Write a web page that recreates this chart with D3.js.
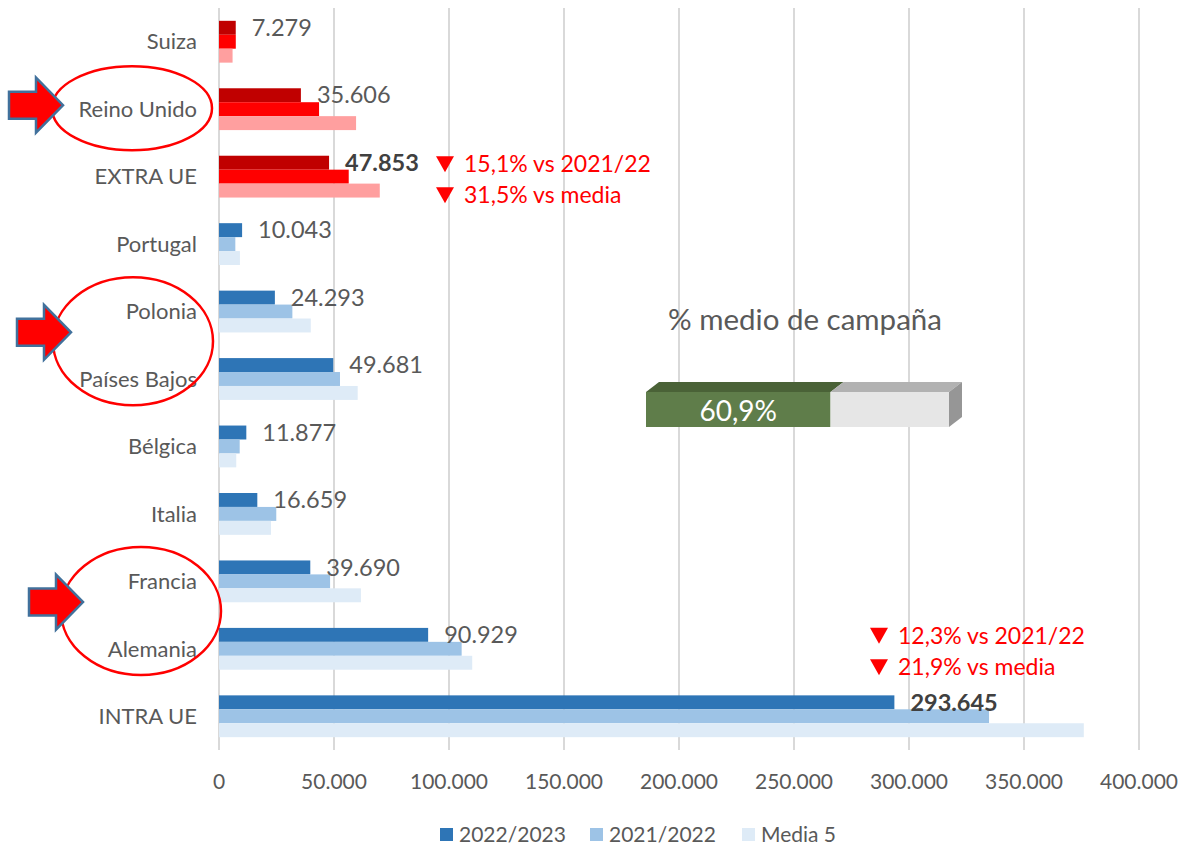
<!DOCTYPE html>
<html>
<head>
<meta charset="utf-8">
<script src="https://cdn.jsdelivr.net/npm/d3@7"></script>
<style>
  html, body { margin: 0; padding: 0; background: #fff; }
  svg { display: block; font-family: "Lato", "Open Sans", sans-serif; }
</style>
</head>
<body>
<div id="chart"></div>
<script>
// ---------- Data ----------
const categories = ["Suiza", "Reino Unido", "EXTRA UE", "Portugal", "Polonia", "Países Bajos",
                    "Bélgica", "Italia", "Francia", "Alemania", "INTRA UE"];
const seriesNames = ["2022/2023", "2021/2022", "Media 5"];
const v2223  = [7279, 35606, 47853, 10043, 24293, 49681, 11877, 16659, 39690, 90929, 293645];
const v2122  = [7300, 43500, 56400, 7100, 31900, 52600, 9000, 24900, 48300, 105500, 334800];
const media5 = [5900, 59600, 69900, 9100, 39900, 60300, 7500, 22600, 61700, 110100, 376000];
const xTicks = [0, 50000, 100000, 150000, 200000, 250000, 300000, 350000, 400000];
const extraCats = ["Suiza", "Reino Unido", "EXTRA UE"];
const boldCats = ["EXTRA UE", "INTRA UE"];
const campaignPct = 0.609;
const campaignLabel = "60,9%";
const notes = [
  { cat: "EXTRA UE", lines: ["15,1% vs 2021/22", "31,5% vs media"] },
  { cat: "INTRA UE", lines: ["12,3% vs 2021/22", "21,9% vs media"] }
];
const circled = [["Reino Unido"], ["Polonia", "Países Bajos"], ["Francia", "Alemania"]];

// ---------- Layout ----------
const width = 1181, height = 847;
const plot = { left: 219, right: 1139, top: 8, bottom: 750 };
const blues = ["#2E75B6", "#9DC3E6", "#DEEBF7"];
const reds  = ["#C00000", "#FF0000", "#FF9F9F"];

const es = d3.formatLocale({ decimal: ",", thousands: ".", grouping: [3], currency: ["", "€"] });
const fmt = es.format(",d");

const svg = d3.select("#chart").append("svg")
  .attr("width", width)
  .attr("height", height);

// ---------- Scales ----------
const x = d3.scaleLinear().domain([0, 400000]).range([plot.left, plot.right]);
const y = d3.scaleBand().domain(categories).range([plot.top, plot.bottom]).padding(0);
const ySub = d3.scaleBand().domain(seriesNames)
  .range([y.bandwidth() * 0.19, y.bandwidth() * 0.81]).padding(0);

// ---------- Grid ----------
svg.append("g").selectAll("line")
  .data(xTicks)
  .join("line")
  .attr("x1", d => x(d)).attr("x2", d => x(d))
  .attr("y1", plot.top).attr("y2", plot.bottom)
  .attr("stroke", "#D9D9D9")
  .attr("stroke-width", 2);

// ---------- Bars ----------
const rows = categories.map((c, i) => ({
  cat: c,
  vals: [v2223[i], v2122[i], media5[i]]
}));

const groups = svg.append("g").selectAll("g")
  .data(rows)
  .join("g")
  .attr("transform", d => `translate(0,${y(d.cat)})`);

groups.selectAll("rect")
  .data(d => d.vals.map((v, j) => ({ cat: d.cat, s: seriesNames[j], j, v })))
  .join("rect")
  .attr("x", x(0))
  .attr("y", d => ySub(d.s))
  .attr("width", d => x(d.v) - x(0))
  .attr("height", ySub.bandwidth())
  .attr("fill", d => (extraCats.includes(d.cat) ? reds : blues)[d.j]);

// value labels on first series
groups.append("text")
  .attr("x", d => x(d.vals[0]) + 16)
  .attr("y", ySub(seriesNames[0]) + ySub.bandwidth() / 2)
  .attr("dy", "0.35em")
  .attr("font-size", 23.5)
  .attr("font-weight", d => boldCats.includes(d.cat) ? 700 : 400)
  .attr("fill", d => boldCats.includes(d.cat) ? "#404040" : "#595959")
  .text(d => fmt(d.vals[0]));

// ---------- Category axis ----------
svg.append("g").selectAll("text")
  .data(categories)
  .join("text")
  .attr("x", 197)
  .attr("y", d => y(d) + y.bandwidth() / 2)
  .attr("dy", "0.35em")
  .attr("text-anchor", "end")
  .attr("font-size", 22)
  .attr("fill", "#595959")
  .text(d => d);

// ---------- Value axis ----------
svg.append("g").selectAll("text")
  .data(xTicks)
  .join("text")
  .attr("x", d => x(d))
  .attr("y", 782)
  .attr("dy", "0.35em")
  .attr("text-anchor", "middle")
  .attr("font-size", 21)
  .attr("fill", "#595959")
  .text(d => fmt(d));

// ---------- Legend ----------
const legendX = [440, 590, 742];
const legend = svg.append("g").selectAll("g")
  .data(seriesNames)
  .join("g")
  .attr("transform", (d, i) => `translate(${legendX[i]},835)`);
legend.append("rect")
  .attr("x", 0).attr("y", -7)
  .attr("width", 13).attr("height", 13)
  .attr("fill", (d, i) => blues[i]);
legend.append("text")
  .attr("x", 19)
  .attr("dy", "0.35em")
  .attr("font-size", 21)
  .attr("fill", "#595959")
  .text(d => d);

// ---------- Notes ----------
const noteX = { "EXTRA UE": 436, "INTRA UE": 870 };
const noteDy = { "EXTRA UE": [-12.5, 18.5], "INTRA UE": [-80.5, -49] };
notes.forEach(n => {
  const cy = y(n.cat) + y.bandwidth() / 2;
  n.lines.forEach((line, k) => {
    const ly = cy + noteDy[n.cat][k];
    const nx = noteX[n.cat];
    svg.append("path")
      .attr("d", `M${nx},${ly - 8}L${nx + 18},${ly - 8}L${nx + 9},${ly + 8}Z`)
      .attr("fill", "#FF0000");
    svg.append("text")
      .attr("x", nx + 28)
      .attr("y", ly)
      .attr("dy", "0.35em")
      .attr("font-size", 23)
      .attr("fill", "#FF0000")
      .text(line);
  });
});

// ---------- Circles & arrows ----------
const ellipses = [
  { cx: 132, rx: 80, ry: 42, tipX: 63 },
  { cx: 133, rx: 80, ry: 64, tipX: 71 },
  { cx: 141, rx: 80, ry: 64, tipX: 83 }
];
circled.forEach((cats, i) => {
  const e = ellipses[i];
  const cy = d3.mean(cats, c => y(c) + y.bandwidth() / 2) - (cats.length > 1 ? 4 : 1);
  svg.append("ellipse")
    .attr("cx", e.cx).attr("cy", cy)
    .attr("rx", e.rx).attr("ry", e.ry)
    .attr("fill", "none")
    .attr("stroke", "#FF0000")
    .attr("stroke-width", 2.5);
  const tx = e.tipX, ty = cy - (cats.length > 1 ? 9 : 3);
  svg.append("path")
    .attr("d", `M${tx - 54},${ty - 13.5}L${tx - 27},${ty - 13.5}L${tx - 27},${ty - 27.5}` +
               `L${tx},${ty}L${tx - 27},${ty + 27.5}L${tx - 27},${ty + 13.5}L${tx - 54},${ty + 13.5}Z`)
    .attr("fill", "#FF0000")
    .attr("stroke", "#41719C")
    .attr("stroke-width", 2.5)
    .attr("stroke-linejoin", "miter");
});

// ---------- Campaign gauge ----------
const gx = d3.scaleLinear().domain([0, 1]).range([646, 949]);
const gTop = 392, gBot = 427, dX = 13, dY = 10;
const gauge = svg.append("g");
gauge.append("text")
  .attr("x", 805).attr("y", 320)
  .attr("dy", "0.35em")
  .attr("text-anchor", "middle")
  .attr("font-size", 29.5)
  .attr("fill", "#595959")
  .text("% medio de campaña");
// top faces
gauge.append("path")
  .attr("d", `M${gx(0)},${gTop}L${gx(0) + dX},${gTop - dY}L${gx(campaignPct) + dX},${gTop - dY}L${gx(campaignPct)},${gTop}Z`)
  .attr("fill", "#4A6237");
gauge.append("path")
  .attr("d", `M${gx(campaignPct)},${gTop}L${gx(campaignPct) + dX},${gTop - dY}L${gx(1) + dX},${gTop - dY}L${gx(1)},${gTop}Z`)
  .attr("fill", "#B2B2B2");
// side
gauge.append("path")
  .attr("d", `M${gx(1)},${gTop}L${gx(1) + dX},${gTop - dY}L${gx(1) + dX},${gBot - dY}L${gx(1)},${gBot}Z`)
  .attr("fill", "#969696");
// front faces
gauge.append("rect")
  .attr("x", gx(0)).attr("y", gTop)
  .attr("width", gx(campaignPct) - gx(0)).attr("height", gBot - gTop)
  .attr("fill", "#5F7D4A");
gauge.append("rect")
  .attr("x", gx(campaignPct)).attr("y", gTop)
  .attr("width", gx(1) - gx(campaignPct)).attr("height", gBot - gTop)
  .attr("fill", "#E6E6E6");
gauge.append("text")
  .attr("x", (gx(0) + gx(campaignPct)) / 2)
  .attr("y", (gTop + gBot) / 2 + 2)
  .attr("dy", "0.35em")
  .attr("text-anchor", "middle")
  .attr("font-size", 28)
  .attr("fill", "#FFFFFF")
  .text(campaignLabel);
</script>
</body>
</html>
